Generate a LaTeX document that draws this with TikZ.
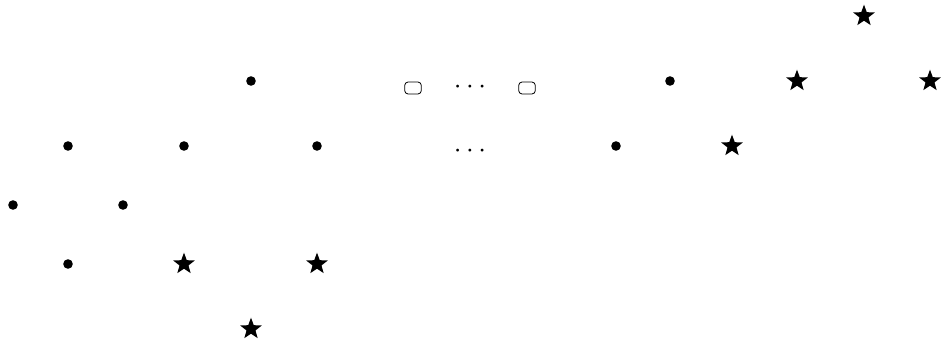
\documentclass[tikz,border=0pt]{standalone}
\usetikzlibrary{shapes.geometric}

\begin{document}
\begin{tikzpicture}[x=0.75pt,y=0.75pt,yscale=-1,
  dotnode/.style={circle,fill=black,inner sep=0pt,minimum size=7.2pt},
  starnode/.style={star,star points=5,star point ratio=2.4,fill=black,inner sep=0pt,minimum size=17pt},
  boxnode/.style={draw=black,line width=0.6pt,rounded corners=2.6pt,inner sep=0pt,minimum width=12.5pt,minimum height=9pt},
  gapnode/.style={inner sep=0pt,font=\huge}]
\useasboundingbox (0,0) rectangle (943,343);

% Stars
\node [starnode] (s1) at (864,16) {};
\node [starnode] (s2) at (797,81) {};
\node [starnode] (s3) at (930,81) {};
\node [starnode] (s4) at (732,146) {};
\node [starnode] (s5) at (184,264) {};
\node [starnode] (s6) at (317,264) {};
\node [starnode] (s7) at (251,329) {};

% Dots
\node [dotnode] (d1) at (251,81) {};
\node [dotnode] (d2) at (670,81) {};
\node [dotnode] (d3) at (68,146) {};
\node [dotnode] (d4) at (184,146) {};
\node [dotnode] (d5) at (317,146) {};
\node [dotnode] (d6) at (616,146) {};
\node [dotnode] (d7) at (13,205) {};
\node [dotnode] (d8) at (123,205) {};
\node [dotnode] (d9) at (68,264) {};

% Boxes
\node [boxnode] (b1) at (413,88) {};
\node [boxnode] (b2) at (527,88) {};

% Ellipses
\node [gapnode] (g1) at (470,87) {$\cdots$};
\node [gapnode] (g2) at (470,151) {$\cdots$};
\end{tikzpicture}
\end{document}
